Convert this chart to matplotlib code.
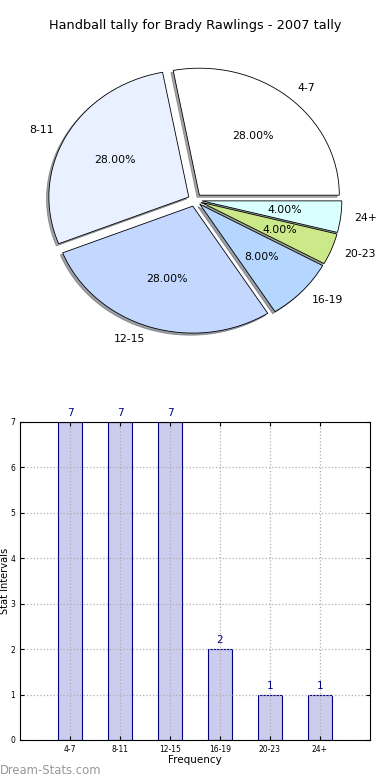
import matplotlib
matplotlib.use('Agg')
import matplotlib.pyplot as plt
import numpy as np

# data
labels = ['4-7', '8-11', '12-15', '16-19', '20-23', '24+']
counts = [7, 7, 7, 2, 1, 1]
pie_colors = ['#ffffff', '#e9f0ff', '#c4d8ff', '#b4d6ff', '#cce98a', '#d9ffff']
title = 'Handball tally for Brady Rawlings - 2007 tally'

fig = plt.figure(figsize=(3.9, 7.8), dpi=100)

#Pie
ax1 = fig.add_axes([0.0513, 0.54, 0.897, 0.407])
wedges, texts, autotexts = ax1.pie(counts, labels=labels, colors=pie_colors,
                                   explode=[0.05] * len(counts),
                                   shadow={'ox': -0.012, 'oy': -0.012},
                                   autopct='%1.2f%%', startangle=0,
                                   wedgeprops=dict(edgecolor='black', linewidth=0.6),
                                   textprops=dict(fontsize=7.8))
ax1.set_aspect('auto')
ax1.set_xlim(-1.25, 1.25)
ax1.set_ylim(-1.25, 1.25)
ax1.set_title(title, fontsize=9.3, pad=9)

#Bars
ax2 = fig.add_axes([0.0513, 0.0513, 0.897, 0.408])
x = np.arange(len(labels))
ax2.bar(x, counts, width=0.48, color='#ccccee', edgecolor='#000080', linewidth=0.8)
for xi, c in zip(x, counts):
    ax2.text(xi, c + 0.08, str(c), ha='center', va='bottom', color='#000080', fontsize=7.5)
ax2.set_xlim(-1, len(labels))
ax2.set_ylim(0, 7)
ax2.set_xticks(x)
ax2.set_xticklabels(labels)
ax2.set_yticks(range(8))
ax2.tick_params(labelsize=5.5, direction='in', top=True, right=True, length=3)
ax2.set_axisbelow(False)
ax2.grid(color='#b0b0b0', linestyle=':', linewidth=0.9)
for sp in ax2.spines.values():
    sp.set_zorder(3)
ax2.set_xlabel('Frequency', fontsize=7.5, labelpad=1)
ax2.set_ylabel('Stat Intervals', fontsize=7.1)
ax2.yaxis.set_label_coords(-0.028, 0.5)

fig.text(0.0, 0.0128, 'Dream-Stats.com', color='#999999', fontsize=8.4, ha='left', va='center')

fig.savefig('out.png', dpi=100)
